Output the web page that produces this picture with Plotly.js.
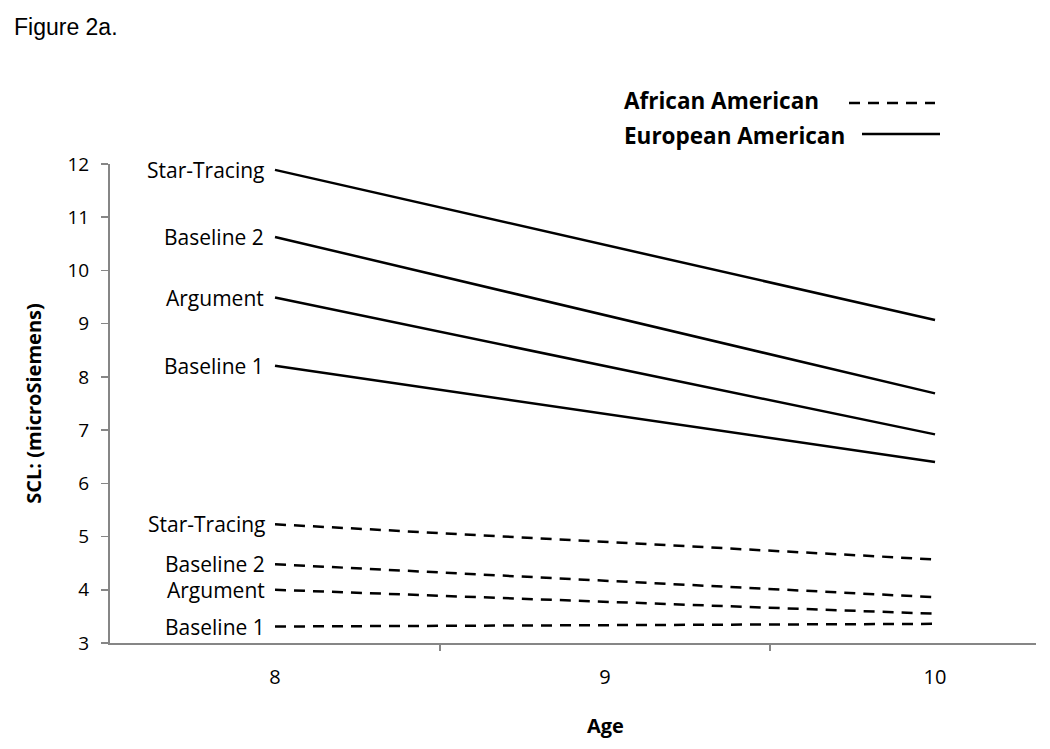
<!DOCTYPE html>
<html>
<head>
<meta charset="utf-8">
<script src="https://cdn.plot.ly/plotly-3.0.1.min.js"></script>
<style>html,body{margin:0;padding:0;background:#fff;}#chart{width:1050px;height:749px;}</style>
</head>
<body>
<div id="chart"></div>
<script>
// Data
const ages = [8, 10];
const conditions = ["Star-Tracing", "Baseline 2", "Argument", "Baseline 1"];
const europeanStarTracing = [11.89, 9.07];
const europeanBaseline2 = [10.63, 7.69];
const europeanArgument = [9.49, 6.92];
const europeanBaseline1 = [8.21, 6.40];
const africanStarTracing = [5.23, 4.57];
const africanBaseline2 = [4.48, 3.86];
const africanArgument = [4.00, 3.55];
const africanBaseline1 = [3.31, 3.36];
const xTickLabels = ["8", "9", "10"];
const xTickValues = [8, 9, 10];
const xDividers = [8.5, 9.5];
const groupNames = ["African American", "European American"];

const european = [europeanStarTracing, europeanBaseline2, europeanArgument, europeanBaseline1];
const african = [africanStarTracing, africanBaseline2, africanArgument, africanBaseline1];

const FONT = "'Open Sans', 'Noto Sans', sans-serif";
const traces = [];
european.forEach((vals, i) => {
  traces.push({x: ages, y: vals, type: "scatter", mode: "lines", name: "European " + conditions[i],
    line: {color: "#000", width: 2.5}, showlegend: false, hoverinfo: "x+y"});
});
african.forEach((vals, i) => {
  traces.push({x: ages, y: vals, type: "scatter", mode: "lines", name: "African " + conditions[i],
    line: {color: "#000", width: 2.5, dash: "11px,8px"}, showlegend: false, hoverinfo: "x+y"});
});
// invisible trace on the secondary x axis to carry category divider ticks
traces.push({x: [xDividers[0]], y: [3], xaxis: "x2", type: "scatter", mode: "markers",
  marker: {opacity: 0}, showlegend: false, hoverinfo: "skip"});

const annotations = [];
const labelFont = {family: FONT, size: 21, color: "#000"};
european.forEach((vals, i) => {
  annotations.push({x: ages[0], y: vals[0], xref: "x", yref: "y", text: conditions[i], showarrow: false,
    xanchor: "right", yanchor: "middle", xshift: -9, font: labelFont});
});
african.forEach((vals, i) => {
  annotations.push({x: ages[0], y: vals[0], xref: "x", yref: "y", text: conditions[i], showarrow: false,
    xanchor: "right", yanchor: "middle", xshift: -8, font: labelFont});
});
// x axis title centred under the middle category, as in the figure
annotations.push({x: xTickValues[1], y: 0, xref: "x", yref: "paper", yshift: -82, text: "<b>Age</b>",
  showarrow: false, xanchor: "center", yanchor: "middle", font: {family: FONT, size: 20, color: "#000"}});
// legend text
const px = v => (v - 110) / 926;
const py = v => (643 - v) / 479;
annotations.push({x: px(622), y: py(101), xref: "paper", yref: "paper", text: "<b>" + groupNames[0] + "</b>",
  showarrow: false, xanchor: "left", yanchor: "middle", font: {family: FONT, size: 22.5, color: "#000"}});
annotations.push({x: px(622), y: py(135), xref: "paper", yref: "paper", text: "<b>" + groupNames[1] + "</b>",
  showarrow: false, xanchor: "left", yanchor: "middle", font: {family: FONT, size: 22.5, color: "#000"}});

const shapes = [
  {type: "line", xref: "paper", yref: "paper", x0: px(849), x1: px(935), y0: py(103), y1: py(103),
    line: {color: "#000", width: 2.5, dash: "11px,8px"}},
  {type: "line", xref: "paper", yref: "paper", x0: px(862), x1: px(940), y0: py(134), y1: py(134),
    line: {color: "#000", width: 2.5}}
];

const layout = {
  width: 1050, height: 749,
  margin: {l: 110, r: 14, t: 164, b: 106},
  paper_bgcolor: "#fff", plot_bgcolor: "#fff",
  showlegend: false,
  title: {text: "Figure 2a.", xref: "container", yref: "container", x: 14/1050, xanchor: "left",
    y: 1 - 27/749, yanchor: "middle", font: {family: "'Liberation Sans', Arial, sans-serif", size: 23, color: "#000"}},
  xaxis: {range: [7.5, 10.306], tickvals: xTickValues, ticktext: xTickLabels, ticks: "",
    showgrid: false, zeroline: false, showline: true, linecolor: "#868686", linewidth: 2,
    tickfont: {family: FONT, size: 20, color: "#000"}, ticklabelstandoff: 15},
  xaxis2: {range: [7.5, 10.306], overlaying: "x", side: "bottom", tickvals: xDividers, ticktext: ["", ""],
    ticks: "outside", ticklen: 7, tickwidth: 1.5, tickcolor: "#868686", showticklabels: false,
    showgrid: false, zeroline: false, showline: false},
  yaxis: {range: [3, 12], dtick: 1, ticks: "outside", ticklen: 7, tickwidth: 1.5, tickcolor: "#868686",
    showgrid: false, zeroline: false, showline: true, linecolor: "#868686", linewidth: 2,
    tickfont: {family: FONT, size: 19, color: "#000"}, ticklabelstandoff: 8,
    title: {text: "<b>SCL: (microSiemens)</b>", font: {family: FONT, size: 20, color: "#000"}, standoff: 20}},
  annotations: annotations,
  shapes: shapes
};

Plotly.newPlot("chart", traces, layout, {displayModeBar: false, staticPlot: true});
</script>
</body>
</html>
